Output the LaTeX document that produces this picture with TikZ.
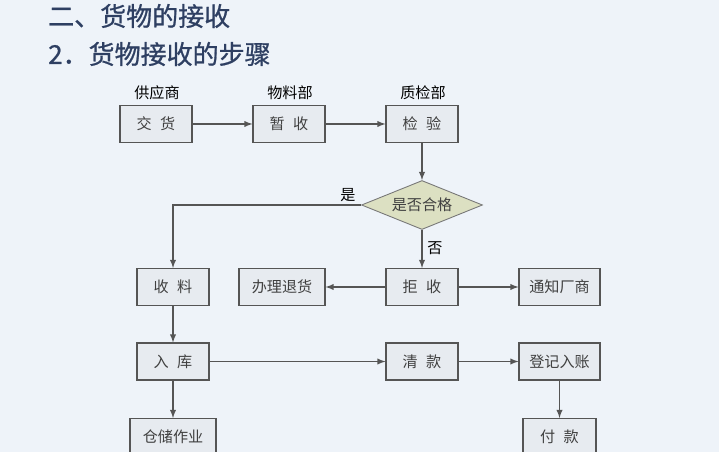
\documentclass[tikz,border=0pt]{standalone}
\usepackage{fontspec}
\newfontfamily\cjk{Noto Sans CJK SC}
\newfontfamily\cjkt{Noto Sans CJK SC}[FakeBold=0.8]
\usepackage{tikz}
\usetikzlibrary{shapes.geometric}
\definecolor{bgblue}{HTML}{EEF3F9}
\definecolor{boxfill}{HTML}{E7EBF0}
\definecolor{linegray}{HTML}{555555}
\definecolor{khaki}{HTML}{DCE0C2}
\definecolor{titleblue}{HTML}{2E3F62}
\newcommand\kgap{\hspace{0.55em}}

\begin{document}
\begin{tikzpicture}[x=0.02cm, y=-0.02cm, >=latex, font=\cjk\fontsize{8.6}{10}\selectfont,
		box/.style={draw=linegray, fill=boxfill, line width=0.6pt, minimum width=1.44cm, minimum height=0.74cm, inner sep=0pt, text=black!75},
		wide/.style={box, minimum width=1.66cm},
		check/.style={diamond, draw=linegray!80, fill=khaki, line width=0.5pt, aspect=2.47, minimum width=2.42cm, minimum height=0.98cm, inner sep=0pt, text=black!75},
		flow/.style={->, draw=linegray, line width=0.6pt}]
		\useasboundingbox (0,0) rectangle (719,452);
		\clip (0,0) rectangle (719,452);
		\fill[bgblue] (0,0) rectangle (719,452);
		% title
		\node[anchor=west, text=titleblue, font=\cjkt\fontsize{14.8}{16}\selectfont] (t1) at (42,16) {二、货物的接收};
		\node[anchor=west, text=titleblue, font=\cjkt\fontsize{14.8}{16}\selectfont] (t2) at (42,54) {2．货物接收的步骤};
		% departments
		\node (d1) at (157,93) {供应商};
		\node (d2) at (290,93) {物料部};
		\node (d3) at (423,93) {质检部};
		% boxes
		\node[box] (jh) at (156,124) {交\kgap 货};
		\node[box] (zs) at (289,124) {暂\kgap 收};
		\node[box] (jy) at (422,124) {检\kgap 验};
		\node[check] (hg) at (422,205) {是否合格};
		\node[box] (sl) at (173,287) {收\kgap 料};
		\node[wide, minimum width=1.72cm] (th) at (282,287) {办理退货};
		\node[box] (js) at (422,287) {拒\kgap 收};
		\node[wide, minimum width=1.62cm] (tz) at (559.5,287) {通知厂商};
		\node[box] (rk) at (173,361.5) {入\kgap 库};
		\node[box] (qk) at (422,361.5) {清\kgap 款};
		\node[wide, minimum width=1.62cm] (dj) at (559.5,361.5) {登记入账};
		\node[wide, minimum width=1.72cm, anchor=north] (cc) at (173,418) {仓储作业};
		\node[box, minimum width=1.46cm, anchor=north] (fk) at (559.5,418) {付\kgap 款};
		% connectors
		\draw[flow] (jh) -- (zs);
		\draw[flow] (zs) -- (jy);
		\draw[flow] (jy) -- (hg);
		\draw[flow] (hg.west) -| (sl.north);
		\node (yes) at (348,195) {是};
		\draw[flow] (hg) -- (js);
		\node (no) at (435,248) {否};
		\draw[flow] (js) -- (th);
		\draw[flow] (js) -- (tz);
		\draw[flow] (sl) -- (rk);
		\draw[flow] (rk) -- (qk);
		\draw[flow] (qk) -- (dj);
		\draw[flow] (rk) -- (cc);
		\draw[flow] (dj) -- (fk);
	\end{tikzpicture}
\end{document}
